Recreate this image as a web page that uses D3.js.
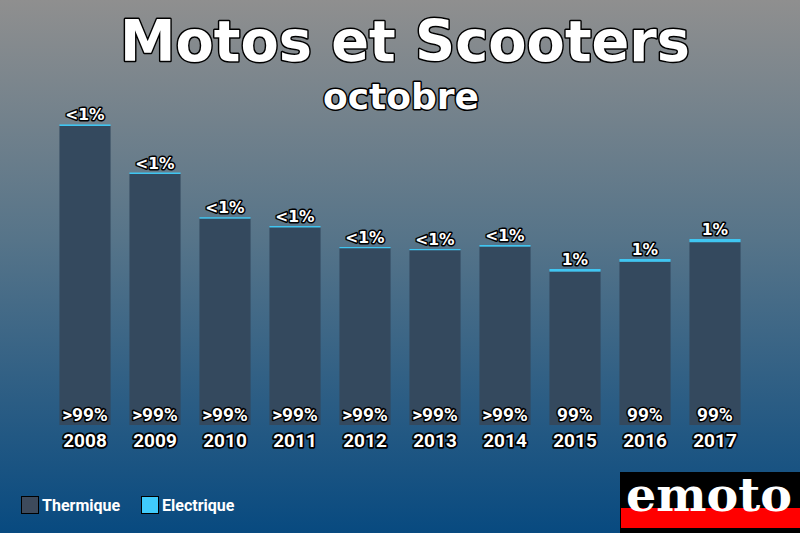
<!DOCTYPE html>
<html><head><meta charset="utf-8">
<script src="https://cdn.jsdelivr.net/npm/d3@7"></script>
<style>body{margin:0;padding:0;overflow:hidden}svg{display:block}</style>
</head><body>
<script>
const years = ["2008","2009","2010","2011","2012","2013","2014","2015","2016","2017"];
const thermique = [14950, 12550, 10320, 9880, 8840, 8740, 8920, 7670, 8160, 9140];
const electrique = [80, 75, 70, 70, 60, 60, 80, 130, 140, 160];
const labelsTop = ["<1%","<1%","<1%","<1%","<1%","<1%","<1%","1%","1%","1%"];
const labelsBottom = [">99%",">99%",">99%",">99%",">99%",">99%",">99%","99%","99%","99%"];
const seriesNames = ["Thermique","Electrique"];
const colors = ["#34495e","#3fc6f2"];

const W = 800, H = 533;
const svg = d3.select("body").append("svg").attr("width", W).attr("height", H);
const defs = svg.append("defs");
const grad = defs.append("linearGradient").attr("id","bg").attr("x1",0).attr("y1",0).attr("x2",0).attr("y2",1);
grad.append("stop").attr("offset","0%").attr("stop-color","#8f8f8f");
grad.append("stop").attr("offset","45%").attr("stop-color","#567489");
grad.append("stop").attr("offset","100%").attr("stop-color","#084a80");
svg.append("rect").attr("width",W).attr("height",H).attr("fill","url(#bg)");

const x = d3.scaleBand().domain(years).range([50, 750]).paddingInner(0.27).paddingOuter(0.135);
const y = d3.scaleLinear().domain([0, 16000]).range([425, 105]);

const g = svg.append("g");
years.forEach((yr, i) => {
  const t = thermique[i], e = electrique[i];
  g.append("rect").attr("x", x(yr)).attr("width", x.bandwidth())
    .attr("y", y(t)).attr("height", y(0) - y(t)).attr("fill", colors[0]);
  g.append("rect").attr("x", x(yr)).attr("width", x.bandwidth())
    .attr("y", y(t + e)).attr("height", y(t) - y(t + e)).attr("fill", colors[1]);
});

function outlined(sel){
  return sel.attr("fill","#fff").attr("stroke","#000").attr("paint-order","stroke")
    .attr("stroke-linejoin","round");
}

// labels
years.forEach((yr, i) => {
  outlined(g.append("text").attr("x", x(yr) + x.bandwidth()/2).attr("y", y(thermique[i] + electrique[i]) - 4)
    .attr("text-anchor","middle").attr("font-family","DejaVu Sans").attr("font-weight","bold")
    .attr("font-size",15.5).attr("stroke-width",3).text(labelsTop[i]));
  outlined(g.append("text").attr("x", x(yr) + x.bandwidth()/2).attr("y", 421)
    .attr("text-anchor","middle").attr("font-family","Roboto").attr("font-weight","bold")
    .attr("font-size",19).attr("stroke-width",3).text(labelsBottom[i]));
});

// x axis
const xAxis = svg.append("g").attr("transform","translate(0,425)")
  .call(d3.axisBottom(x).tickSize(0).tickPadding(9));
xAxis.select(".domain").remove();
outlined(xAxis.selectAll("text").attr("font-family","Roboto").attr("font-weight","bold")
  .attr("font-size",19).attr("stroke-width",3.5));

// title
outlined(svg.append("text").attr("x",405).attr("y",61).attr("text-anchor","middle")
  .attr("font-family","DejaVu Sans").attr("font-weight","bold").attr("font-size",57)
  .attr("stroke-width",3).attr("textLength",570).attr("lengthAdjust","spacingAndGlyphs")
  .text("Motos et Scooters"));
outlined(svg.append("text").attr("x",401).attr("y",109).attr("text-anchor","middle")
  .attr("font-family","DejaVu Sans").attr("font-weight","bold").attr("font-size",36)
  .attr("stroke-width",3).text("octobre"));

// legend
const leg = svg.append("g");
const legX = [21, 141];
seriesNames.forEach((n, i) => {
  leg.append("rect").attr("x", legX[i]+0.5).attr("y", 496.5).attr("width",17).attr("height",17)
    .attr("fill", i===0 ? "#3d4a5c" : "#40cbfb").attr("stroke","#000").attr("stroke-width",1);
  leg.append("text").attr("x", legX[i]+21).attr("y", 511).attr("fill","#fff")
    .attr("font-family","Roboto").attr("font-weight","bold").attr("font-size",16).text(n);
});

// logo
const logo = svg.append("g");
logo.append("rect").attr("x",620).attr("y",472).attr("width",180).attr("height",61).attr("fill","#000");
logo.append("rect").attr("x",621).attr("y",508).attr("width",179).attr("height",20).attr("fill","#f00");
logo.append("text").attr("x",709).attr("y",511).attr("text-anchor","middle")
  .attr("font-family","DejaVu Serif").attr("font-weight","bold")
  .attr("font-size",46).attr("fill","#fff").attr("textLength",166).attr("lengthAdjust","spacingAndGlyphs")
  .text("emoto");
</script>
</body></html>
